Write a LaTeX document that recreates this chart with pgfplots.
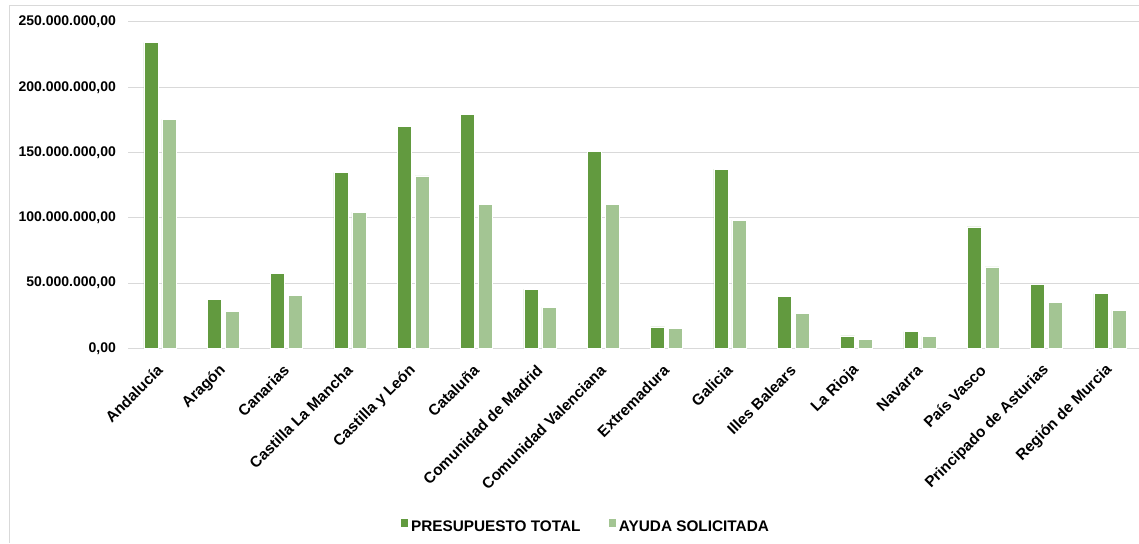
\documentclass[border=0pt]{standalone}
\usepackage{fontspec}
\setmainfont{Liberation Sans}
\usepackage{pgfplots}
\pgfplotsset{compat=1.18}
\definecolor{dgreen}{HTML}{629A3F}
\definecolor{lgreen}{HTML}{A3C593}
\definecolor{gridc}{HTML}{D9D9D9}
\begin{document}
\begin{tikzpicture}
\useasboundingbox (0,0) rectangle (854.25pt,407.25pt);
\draw[gridc, line width=0.75pt] (6.9pt,0) -- (6.9pt,402.75pt) -- (854.25pt,402.75pt);
\begin{axis}[
  at={(96.2pt,145.9pt)}, anchor=south west,
  scale only axis, width=758pt, height=244.9pt,
  xmin=-0.5, xmax=15.46, ymin=0, ymax=250,
  ybar, bar width=10.5pt,
  axis line style={draw=none},
  ymajorgrids, grid style={gridc, line width=0.75pt},
  major tick length=0pt,
  xtick={0,...,15},
  xticklabels={Andalucía,Aragón,Canarias,Castilla La Mancha,Castilla y León,Cataluña,Comunidad de Madrid,Comunidad Valenciana,Extremadura,Galicia,Illes Balears,La Rioja,Navarra,País Vasco,Principado de Asturias,Región de Murcia},
  ytick={0,50,100,150,200,250},
  yticklabels={{0,00},{50.000.000,00},{100.000.000,00},{150.000.000,00},{200.000.000,00},{250.000.000,00}},
  yticklabel style={font=\fontsize{10.5}{12}\selectfont\bfseries, xshift=-5.7pt},
  xticklabel style={font=\fontsize{11.5}{13}\selectfont\bfseries, inner sep=0pt, yshift=-14.5pt, rotate=45, anchor=east},
  legend columns=2,
  legend style={at={(0.453,-0.548)}, anchor=center, draw=none, fill=none,
    font=\fontsize{11.5}{13}\selectfont\bfseries,
    /tikz/every even column/.append style={column sep=19pt}},
  legend image code/.code={\fill[#1,draw=none] (0pt,0.4pt) rectangle (5.8pt,6.2pt);},
]
\addplot[bar shift=-6.75pt, fill=dgreen, draw=white, line width=0.4pt] coordinates {
(0,234.1) (1,37.6) (2,57.5) (3,134.7) (4,170.0) (5,179.4) (6,45.5) (7,150.8)
(8,16.6) (9,137.3) (10,39.6) (11,9.7) (12,12.8) (13,93.0) (14,48.8) (15,41.9)};
\addplot[bar shift=6.75pt, fill=lgreen, draw=white, line width=0.4pt] coordinates {
(0,175.4) (1,28.4) (2,40.6) (3,104.3) (4,132.1) (5,110.4) (6,31.4) (7,110.4)
(8,15.1) (9,98.2) (10,27.1) (11,6.9) (12,9.2) (13,62.4) (14,35.3) (15,29.1)};
\legend{PRESUPUESTO TOTAL, AYUDA SOLICITADA}
\end{axis}
\end{tikzpicture}
\end{document}
